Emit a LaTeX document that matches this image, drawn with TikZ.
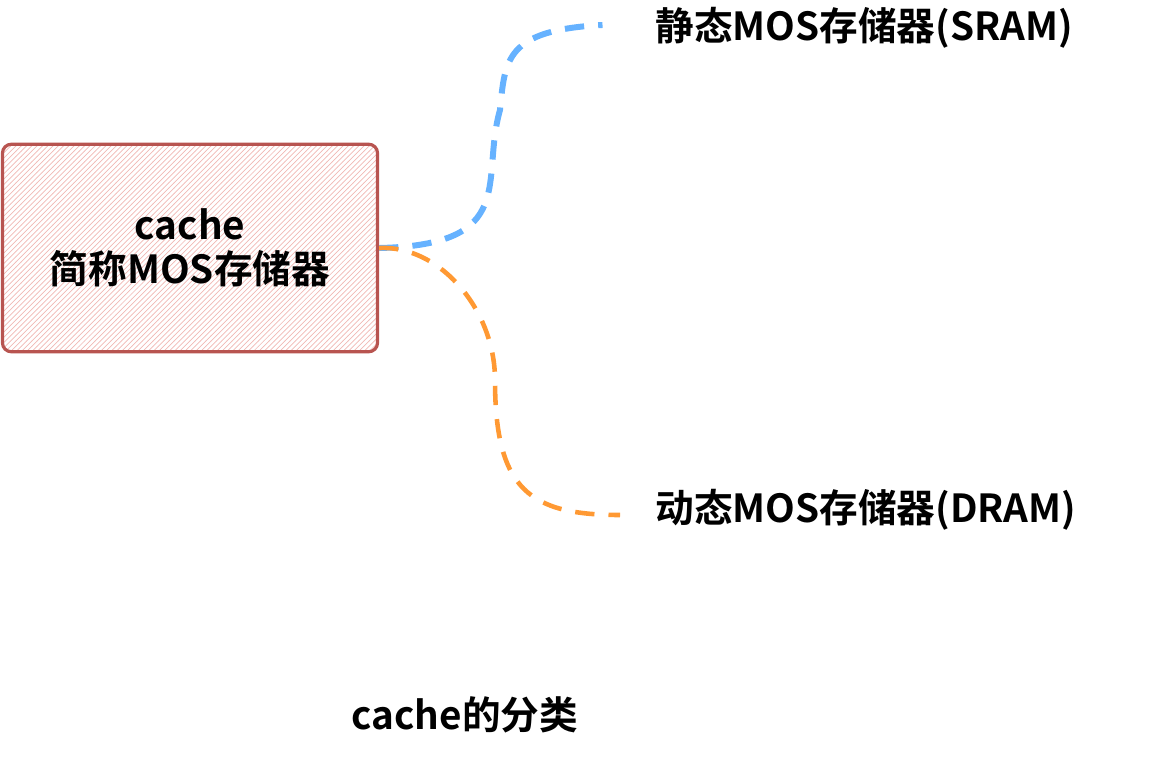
\documentclass[tikz,border=0pt]{standalone}
\usepackage{fontspec}
\setmainfont{Liberation Sans}
\newfontfamily\cjk{Noto Sans CJK SC}[BoldFont={Noto Sans CJK SC Bold}]
\usetikzlibrary{patterns}
\definecolor{boxred}{HTML}{B85450}
\definecolor{hatch}{HTML}{F0B8B4}
\definecolor{sblue}{HTML}{66B2FF}
\definecolor{dorange}{HTML}{FF9933}
\begin{document}
\begin{tikzpicture}[
    lbl/.style={font=\cjk\bfseries\fontsize{22}{25}\selectfont, inner sep=0pt},
    link/.style={line width=2.6pt, dash pattern=on 11pt off 8pt}
  ]
    \useasboundingbox (0,0) rectangle (23.12,-15.68);

    % Draw the cache box
    \node[draw=boxred, line width=1.8pt, rounded corners=5pt, minimum width=7.5cm, minimum height=4.15cm,
          pattern=north east lines, pattern color=hatch, align=center, lbl] (cache) at (3.8,-4.96) {cache\\简称MOS存储器};

    % Draw the memory types
    \node[lbl, anchor=west] (sram) at (13.1,-0.56) {静态MOS存储器(SRAM)};
    \node[lbl, anchor=west] (dram) at (13.1,-10.2) {动态MOS存储器(DRAM)};
    \coordinate (sramend) at (12.05,-0.5);
    \coordinate (dramend) at (12.4,-10.3);

    % Draw connections
    \draw[link, sblue, line width=3.4pt] (cache.east) .. controls (10.4,-4.9) and (9.6,-3.6) .. (10.0,-2.2)
        .. controls (10.1,-1.2) and (10.1,-0.6) .. (sramend);
    \draw[link, dorange] (cache.east) .. controls (8.8,-4.9) and (9.9,-6.2) .. (9.9,-7.6)
        .. controls (9.9,-9.8) and (10.6,-10.3) .. (dramend);

    % Title
    \node[lbl] (title) at (9.3,-14.3) {cache的分类};
\end{tikzpicture}
\end{document}
